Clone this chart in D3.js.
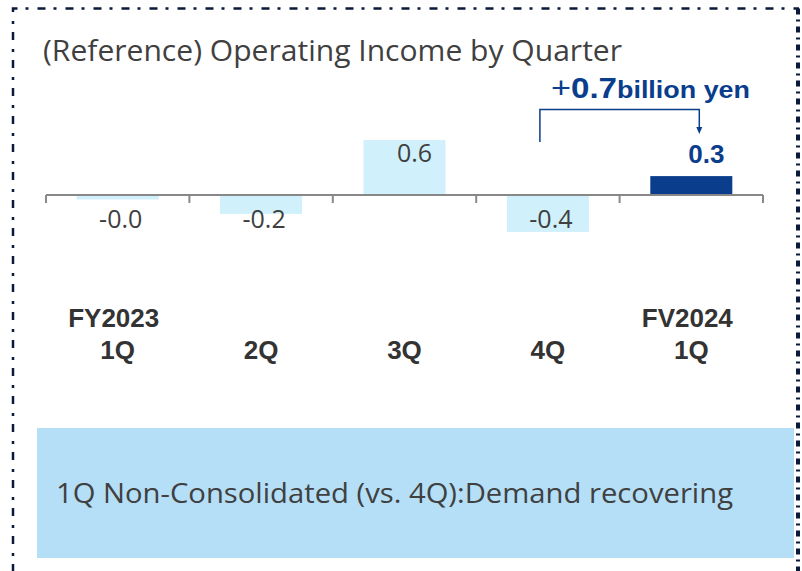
<!DOCTYPE html>
<html><head><meta charset="utf-8">
<script src="https://cdn.jsdelivr.net/npm/d3@7"></script>
<style>html,body{margin:0;padding:0;background:#fff;}svg{display:block;}</style>
</head><body>
<svg id="c" width="802" height="571"></svg>
<script>
const categoriesTop = ["FY2023", "", "", "", "FV2024"];
const categoriesBottom = ["1Q", "2Q", "3Q", "4Q", "1Q"];
const categories = ["FY2023 1Q", "2Q", "3Q", "4Q", "FV2024 1Q"];
const values = [-0.05, -0.21, 0.61, -0.41, 0.21];
const valueLabels = ["-0.0", "-0.2", "0.6", "-0.4", "0.3"];
const highlight = [false, false, false, false, true];
const titleText = "(Reference) Operating Income by Quarter";
const deltaSign = "+";
const deltaValue = "0.7";
const deltaUnit = "billion yen";
const noteText = "1Q Non-Consolidated (vs. 4Q):Demand recovering";

const svg = d3.select("#c");
const navy = "#0b1a3a";
const blue = "#0a3d8c";
const lightBar = "#d0f0fb";

// frame (dash-dot)
svg.append("path")
  .attr("d", "M13,600 V8.5 H799")
  .attr("fill", "none").attr("stroke", navy).attr("stroke-width", 2.5)
  .attr("stroke-dasharray", "8,8,3,9");
svg.append("path")
  .attr("d", "M798,8.5 V600")
  .attr("fill", "none").attr("stroke", navy).attr("stroke-width", 4)
  .attr("stroke-dasharray", "6,5,2,5");

// title
svg.append("text").attr("x", 43).attr("y", 61)
  .attr("font-family", "'Open Sans', 'Noto Sans', sans-serif")
  .attr("font-size", 29).attr("fill", "#404040")
  .attr("textLength", 579).attr("lengthAdjust", "spacingAndGlyphs")
  .text(titleText);

// scales
const x = d3.scaleBand().domain(categories).range([46, 763]).paddingInner(0.428).paddingOuter(0.214);
const y = d3.scaleLinear().domain([0, 1]).range([195, 105]);

// bars
svg.selectAll("rect.bar").data(values).enter().append("rect")
  .attr("class", "bar")
  .attr("x", (d, i) => x(categories[i]))
  .attr("width", x.bandwidth())
  .attr("y", d => Math.min(y(d), y(0)))
  .attr("height", d => Math.abs(y(d) - y(0)))
  .attr("fill", (d, i) => highlight[i] ? blue : lightBar);

// axis
const gap = x.step() * x.paddingInner() / 2;
const bounds = categories.map(c => x(c) - gap).concat([x(categories[categories.length - 1]) + x.bandwidth() + gap]);
const axisG = svg.append("g").attr("stroke", "#888").attr("stroke-width", 2);
axisG.append("line").attr("x1", bounds[0]).attr("x2", bounds[bounds.length - 1])
  .attr("y1", y(0)).attr("y2", y(0));
axisG.selectAll("line.tick").data(bounds).enter().append("line")
  .attr("class", "tick")
  .attr("x1", d => d).attr("x2", d => d)
  .attr("y1", y(0)).attr("y2", y(0) + 8);

// value labels
svg.selectAll("text.val").data(values).enter().append("text")
  .attr("class", "val")
  .attr("x", (d, i) => x(categories[i]) + x.bandwidth() / 2 + (d >= 0 ? (highlight[i] ? 15 : 10) : 3))
  .attr("y", (d, i) => d >= 0 ? (highlight[i] ? 163 : 162) : 228)
  .attr("text-anchor", "middle")
  .attr("font-family", (d, i) => highlight[i] ? "'Liberation Sans', Arial, sans-serif" : "'Open Sans', 'Noto Sans', sans-serif")
  .attr("font-size", (d, i) => highlight[i] ? 26 : 25)
  .attr("font-weight", (d, i) => highlight[i] ? "bold" : "normal")
  .attr("fill", (d, i) => highlight[i] ? blue : "#404040")
  .text((d, i) => valueLabels[i]);

// category labels
const catG = svg.append("g")
  .attr("font-family", "'Liberation Sans', Arial, sans-serif")
  .attr("font-weight", "bold").attr("font-size", 26).attr("fill", "#333")
  .attr("text-anchor", "middle");
categories.forEach((c, i) => {
  const cx = x(c) + x.bandwidth() / 2;
  if (categoriesTop[i]) catG.append("text").attr("x", cx - 4).attr("y", 327).text(categoriesTop[i]);
  catG.append("text").attr("x", cx).attr("y", 359).text(categoriesBottom[i]);
});

// delta annotation bracket
const xa = x(categories[3]) + x.bandwidth() / 2 - 8;
const xb = x(categories[4]) + x.bandwidth() / 2 + 8;
svg.append("path")
  .attr("d", `M${xa},142 V109.5 H${xb} V128`)
  .attr("fill", "none").attr("stroke", blue).attr("stroke-width", 1.5);
svg.append("path")
  .attr("d", `M${xb - 3},127 L${xb + 3},127 L${xb},134 Z`)
  .attr("fill", blue);

const ann = svg.append("text").attr("x", 551).attr("y", 98).attr("fill", blue)
  .attr("font-family", "'Liberation Sans', Arial, sans-serif");
ann.append("tspan").attr("font-size", 30).attr("font-weight", "normal")
  .attr("textLength", 20).attr("lengthAdjust", "spacingAndGlyphs").text(deltaSign);
ann.append("tspan").attr("font-size", 29).attr("font-weight", "bold")
  .attr("textLength", 46).attr("lengthAdjust", "spacingAndGlyphs").text(deltaValue);
ann.append("tspan").attr("font-size", 23).attr("font-weight", "bold")
  .attr("textLength", 133).attr("lengthAdjust", "spacingAndGlyphs").text(deltaUnit);

// note box
svg.append("rect").attr("x", 37).attr("y", 428).attr("width", 757).attr("height", 130)
  .attr("fill", "#b4dff7");
svg.append("text").attr("x", 56).attr("y", 503)
  .attr("font-family", "'Open Sans', 'Noto Sans', sans-serif")
  .attr("font-size", 27).attr("fill", "#404040")
  .attr("textLength", 677).attr("lengthAdjust", "spacingAndGlyphs")
  .text(noteText);
</script>
</body></html>
